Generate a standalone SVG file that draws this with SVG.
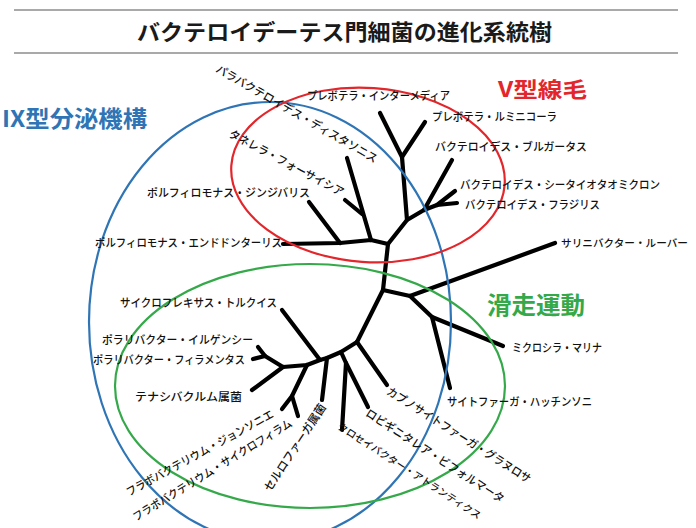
<svg xmlns="http://www.w3.org/2000/svg" width="696" height="528" viewBox="0 0 696 528">
<style>
.lbl{font-family:"Noto Sans CJK JP","Noto Sans CJK SC",sans-serif;font-size:11.5px;font-weight:500;fill:#111}
.big{font-family:"Noto Sans CJK JP","Noto Sans CJK SC",sans-serif;font-weight:bold}
.tree{fill:none;stroke:#000;stroke-width:4.2;stroke-linecap:round;stroke-linejoin:round}
.ell{fill:none;stroke-width:2.2}
</style>
<rect width="696" height="528" fill="#fff"/>
<g id="title">
<line x1="14" y1="10" x2="678" y2="10" stroke="#555" stroke-width="1.2"/>
<line x1="14" y1="53" x2="678" y2="53" stroke="#555" stroke-width="1.2"/>
<text class="big" x="137" y="40" font-size="22" fill="#1a1a1a" textLength="415" lengthAdjust="spacingAndGlyphs">バクテロイデーテス門細菌の進化系統樹</text>
</g>
<g id="connectors">
<path class="tree" d="M283,244 L340,243 L371,240 L388,244"/>
<path class="tree" d="M340,243 L309,202"/>
<path class="tree" d="M371,240 L347,158"/>
<path class="tree" d="M362,214 L345,200"/>
<path class="tree" d="M388,244 L407,220 L424,210 L437,205 L457,203"/>
<path class="tree" d="M407,220 L402,157 L380,113"/>
<path class="tree" d="M402,157 L425,122"/>
<path class="tree" d="M424,210 L452,160"/>
<path class="tree" d="M437,205 L455,191"/>
<path class="tree" d="M388,244 L383,290 L357,342"/>
<path class="tree" d="M383,290 L410,296 L555,243"/>
<path class="tree" d="M410,296 L432,317 L503,346"/>
<path class="tree" d="M432,317 L450,388"/>
<path class="tree" d="M357,342 L387,385"/>
<path class="tree" d="M357,342 L341,352 L346,363 L368,407"/>
<path class="tree" d="M346,363 L342,430"/>
<path class="tree" d="M341,352 L327,358 L322,400"/>
<path class="tree" d="M327,358 L320,360 L282,310"/>
<path class="tree" d="M320,360 L307,365 L283,367 L265,356 L258,347"/>
<path class="tree" d="M265,356 L253,359"/>
<path class="tree" d="M283,367 L252,390"/>
<path class="tree" d="M307,365 L292,396 L282,409"/>
<path class="tree" d="M292,396 L298,416"/>
</g>
<g id="group-ix">
<ellipse class="ell" cx="270" cy="322" rx="181" ry="220" stroke="#2f75b5"/>
<text class="big" x="2" y="127" font-size="23" fill="#2f75b5" textLength="145" lengthAdjust="spacingAndGlyphs">IX型分泌機構</text>
</g>
<g id="group-v">
<ellipse class="ell" cx="368" cy="175" rx="137" ry="87" stroke="#e3262b" transform="rotate(4 368 175)"/>
<text class="big" x="498" y="97" font-size="21" fill="#e3262b" textLength="89" lengthAdjust="spacingAndGlyphs">V型線毛</text>
</g>
<g id="group-gliding">
<ellipse class="ell" cx="310" cy="386" rx="195" ry="122" stroke="#35a94a"/>
<text class="big" x="487" y="314" font-size="24" fill="#35a94a" textLength="98" lengthAdjust="spacingAndGlyphs">滑走運動</text>
</g>
<g id="n-intermedia"><text class="lbl" x="307" y="100" textLength="143" lengthAdjust="spacingAndGlyphs">プレボテラ・インターメディア</text></g>
<g id="n-ruminicola"><text class="lbl" x="432" y="121" textLength="125" lengthAdjust="spacingAndGlyphs">プレボテラ・ルミニコーラ</text></g>
<g id="n-vulgatus"><text class="lbl" x="435" y="151" textLength="152" lengthAdjust="spacingAndGlyphs">バクテロイデス・ブルガータス</text></g>
<g id="n-theta"><text class="lbl" x="460" y="189" textLength="200" lengthAdjust="spacingAndGlyphs">バクテロイデス・シータイオタオミクロン</text></g>
<g id="n-fragilis"><text class="lbl" x="465" y="209" textLength="135" lengthAdjust="spacingAndGlyphs">バクテロイデス・フラジリス</text></g>
<g id="n-gingivalis"><text class="lbl" x="147" y="197" textLength="163" lengthAdjust="spacingAndGlyphs">ポルフィロモナス・ジンジバリス</text></g>
<g id="n-endodontalis"><text class="lbl" x="95" y="247" textLength="187" lengthAdjust="spacingAndGlyphs">ポルフィロモナス・エンドドンターリス</text></g>
<g id="n-salinibacter"><text class="lbl" x="561" y="247" style="font-size:10.5px" textLength="127" lengthAdjust="spacingAndGlyphs">サリニバクター・ルーバー</text></g>
<g id="n-microscilla"><text class="lbl" x="512" y="352" textLength="90" lengthAdjust="spacingAndGlyphs">ミクロシラ・マリナ</text></g>
<g id="n-hutchinsonii"><text class="lbl" x="447" y="406" textLength="145" lengthAdjust="spacingAndGlyphs">サイトファーガ・ハッチンソニ</text></g>
<g id="n-cyclobacterium"><text class="lbl" x="120" y="307" textLength="157" lengthAdjust="spacingAndGlyphs">サイクロフレキサス・トルクイス</text></g>
<g id="n-irgensii"><text class="lbl" x="102" y="344" textLength="151" lengthAdjust="spacingAndGlyphs">ポラリバクター・イルゲンシー</text></g>
<g id="n-filamentus"><text class="lbl" x="93" y="364" textLength="152" lengthAdjust="spacingAndGlyphs">ポラリバクター・フィラメンタス</text></g>
<g id="n-tenacibaculum"><text class="lbl" x="135" y="401" textLength="107" lengthAdjust="spacingAndGlyphs">テナシバクルム属菌</text></g>
<g id="n-distasonis"><text class="lbl" transform="translate(217,68) rotate(29.9)" x="0" y="4" textLength="184" lengthAdjust="spacingAndGlyphs">パラバクテロイデス・ディスタソニス</text></g>
<g id="n-forsythia"><text class="lbl" transform="translate(230,133) rotate(28)" x="0" y="4" textLength="128" lengthAdjust="spacingAndGlyphs">タネレラ・フォーサイシア</text></g>
<g id="n-johnsoniae"><text class="lbl" transform="translate(127,493) rotate(-28.7)" x="0" y="4" textLength="166" lengthAdjust="spacingAndGlyphs">フラボバクテリウム・ジョンソニエ</text></g>
<g id="n-psychrophilum"><text class="lbl" transform="translate(134,518) rotate(-31.4)" x="0" y="4" textLength="184" lengthAdjust="spacingAndGlyphs">フラボバクテリウム・サイクロフィラム</text></g>
<g id="n-cellulophaga"><text class="lbl" transform="translate(267,490) rotate(-56.6)" x="0" y="4" textLength="102" lengthAdjust="spacingAndGlyphs">セルロファーガ属菌</text></g>
<g id="n-capnocytophaga"><text class="lbl" transform="translate(388,390) rotate(32.4)" x="0" y="4" textLength="168" lengthAdjust="spacingAndGlyphs">カプノサイトファーガ・グラヌロサ</text></g>
<g id="n-robiginitalea"><text class="lbl" transform="translate(367,412) rotate(32.9)" x="0" y="4" textLength="162" lengthAdjust="spacingAndGlyphs">ロビギニタレア・ビフォルマータ</text></g>
<g id="n-croceibacter"><text class="lbl" transform="translate(339,425) rotate(32.8)" x="0" y="4" style="font-size:9.8px" textLength="168" lengthAdjust="spacingAndGlyphs">クロセイバクター・アトランティクス</text></g>
</svg>
